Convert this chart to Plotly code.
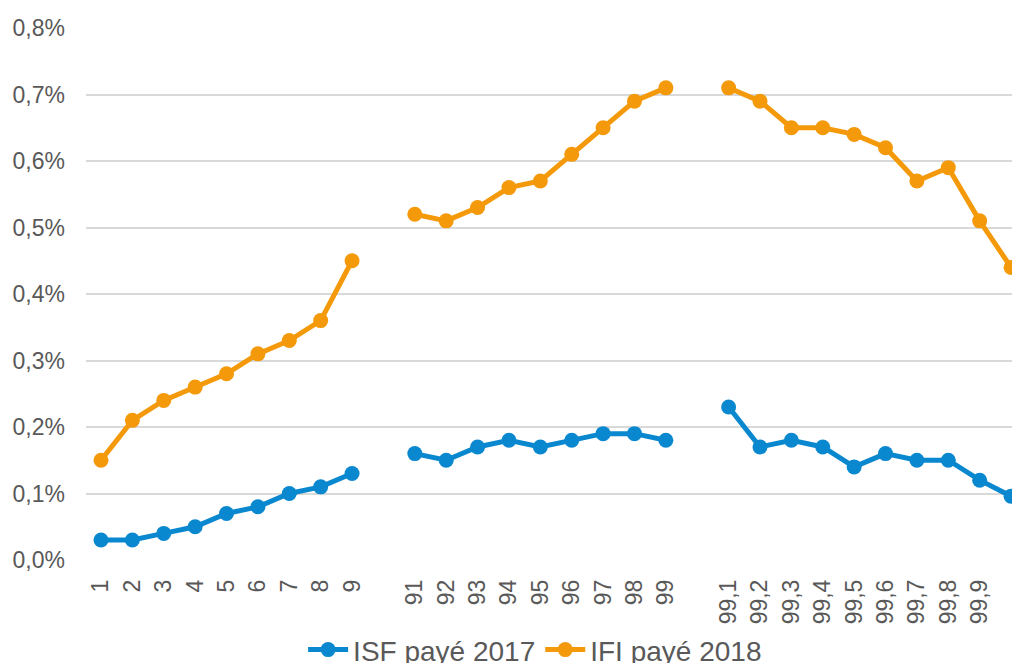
import plotly.graph_objects as go

categories = ["1", "2", "3", "4", "5", "6", "7", "8", "9", "",
              "91", "92", "93", "94", "95", "96", "97", "98", "99", "",
              "99,1", "99,2", "99,3", "99,4", "99,5", "99,6", "99,7", "99,8", "99,9", ""]

isf_2017 = [0.030, 0.030, 0.040, 0.050, 0.070, 0.080, 0.100, 0.110, 0.130, None,
            0.160, 0.150, 0.170, 0.180, 0.170, 0.180, 0.190, 0.190, 0.180, None,
            0.230, 0.170, 0.180, 0.170, 0.140, 0.160, 0.150, 0.150, 0.120, 0.096]

ifi_2018 = [0.150, 0.210, 0.240, 0.260, 0.280, 0.310, 0.330, 0.360, 0.450, None,
            0.520, 0.510, 0.530, 0.560, 0.570, 0.610, 0.650, 0.690, 0.710, None,
            0.710, 0.690, 0.650, 0.650, 0.640, 0.620, 0.570, 0.590, 0.510, 0.440]

y_ticks = [0.0, 0.1, 0.2, 0.3, 0.4, 0.5, 0.6, 0.7, 0.8]
y_labels = ["0,0%", "0,1%", "0,2%", "0,3%", "0,4%", "0,5%", "0,6%", "0,7%", "0,8%"]

x = list(range(len(categories)))

BLUE = "#0A88CF"
ORANGE = "#F49A0A"
TEXT = "#595959"

fig = go.Figure()
fig.add_trace(go.Scatter(x=x, y=isf_2017, name="ISF payé 2017", mode="lines+markers",
                         line=dict(color=BLUE, width=5), marker=dict(size=15, color=BLUE),
                         connectgaps=False, cliponaxis=False))
fig.add_trace(go.Scatter(x=x, y=ifi_2018, name="IFI payé 2018", mode="lines+markers",
                         line=dict(color=ORANGE, width=5), marker=dict(size=15, color=ORANGE),
                         connectgaps=False, cliponaxis=False))

fig.update_layout(
    width=1012, height=663,
    margin=dict(l=86, r=0, t=28, b=103, autoexpand=False),
    paper_bgcolor="white", plot_bgcolor="white",
    font=dict(family="Liberation Sans, Arial, sans-serif", color=TEXT),
    showlegend=True,
    legend=dict(orientation="h", x=0.485, xanchor="center", y=-0.122, yanchor="top",
                font=dict(size=28, color=TEXT), itemwidth=40,
                bgcolor="rgba(0,0,0,0)"),
    xaxis=dict(range=[-0.478, 29.03], tickmode="array", tickvals=x, ticktext=categories,
               tickangle=-90, tickfont=dict(size=23, color=TEXT), showgrid=False,
               zeroline=False, showline=False, ticks="", ticklabelstandoff=14,
               automargin=False),
    yaxis=dict(range=[0, 0.8], tickmode="array", tickvals=y_ticks, ticktext=y_labels,
               tickfont=dict(size=23, color=TEXT), showgrid=True, gridcolor="#D9D9D9",
               gridwidth=1.5, zeroline=False, showline=False, ticks="",
               ticklabelstandoff=20, automargin=False),
)

fig.write_html("out.html", config={"displayModeBar": False},
               post_script="document.body.style.margin='0';document.body.style.overflow='hidden';")
